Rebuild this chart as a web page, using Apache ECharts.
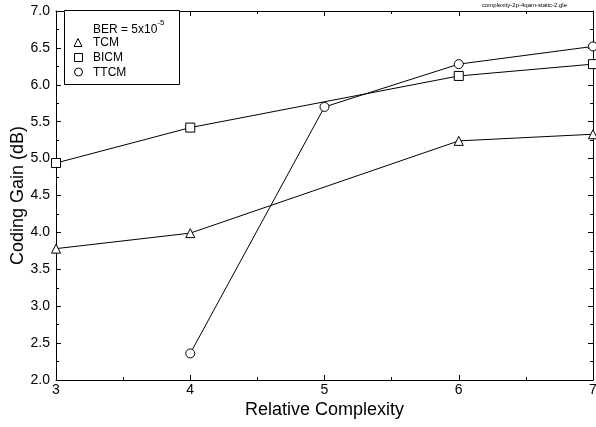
<!DOCTYPE html>
<html><head><meta charset="utf-8">
<script src="https://cdn.jsdelivr.net/npm/echarts@6/dist/echarts.min.js"></script>
<style>html,body{margin:0;padding:0;background:#fff}#c{width:596px;height:427px}</style>
</head><body><div id="c"></div>
<script>
const complexity = [3, 4, 5, 6, 7];
const tcm  = [3.78, 3.99, null, 5.24, 5.33];
const bicm = [4.94, 5.42, null, 6.12, 6.28];
const ttcm = [null, 2.36, 5.70, 6.28, 6.52];
const xTicks = [3, 4, 5, 6, 7];
const yTicks = [2.0, 2.5, 3.0, 3.5, 4.0, 4.5, 5.0, 5.5, 6.0, 6.5, 7.0];
const seriesNames = ['TCM', 'BICM', 'TTCM'];

const pairs = vals => complexity.map((x, i) => [x, vals[i]]).filter(p => p[1] !== null);
const F = 'Liberation Sans, Arial, sans-serif';
const chart = echarts.init(document.getElementById('c'));
const axisCommon = {
  axisLine: {lineStyle: {color: '#000', width: 1}},
  axisTick: {inside: true, length: 5, lineStyle: {color: '#000'}},
  minorTick: {show: true, splitNumber: 2, length: 3, lineStyle: {color: '#000'}},
  splitLine: {show: false}
};
const mk = (name, vals, symbol) => ({
  type: 'line', name, data: pairs(vals), symbol, symbolSize: 9,
  showSymbol: true, lineStyle: {color: '#000', width: 1},
  itemStyle: {color: '#fff', borderColor: '#000', borderWidth: 1},
  z: 3, animation: false
});
chart.setOption({
  animation: false,
  grid: {left: 56, right: 3, top: 11, bottom: 47, containLabel: false, outerBoundsMode: 'none'},
  xAxis: [
    Object.assign({type: 'value', min: xTicks[0], max: xTicks[xTicks.length-1], interval: 1, position: 'bottom',
      name: 'Relative Complexity', nameLocation: 'middle', nameGap: 21, nameMoveOverlap: false,
      nameTextStyle: {fontFamily: F, fontSize: 18, color: '#000'},
      axisLabel: {fontFamily: F, fontSize: 14, color: '#000', margin: 3}}, axisCommon),
    Object.assign({type: 'value', min: 3, max: 7, interval: 1, position: 'top', axisLabel: {show: false}}, axisCommon)
  ],
  yAxis: [
    Object.assign({type: 'value', min: yTicks[0], max: yTicks[yTicks.length-1], interval: 0.5,
      name: 'Coding Gain (dB)', nameLocation: 'middle', nameGap: 29, nameMoveOverlap: false,
      nameTextStyle: {fontFamily: F, fontSize: 18, color: '#000'},
      axisLabel: {fontFamily: F, fontSize: 14, color: '#000', margin: 6, formatter: v => v.toFixed(1)}}, axisCommon),
    Object.assign({type: 'value', min: 2, max: 7, interval: 0.5, position: 'right', axisLabel: {show: false}}, axisCommon)
  ],
  series: [
    mk(seriesNames[0], tcm, 'triangle'),
    mk(seriesNames[1], bicm, 'rect'),
    mk(seriesNames[2], ttcm, 'circle')
  ],
  graphic: [
    {type: 'text', left: 482, top: 2, style: {text: 'complexity-2p-4qam-static-2.gle', font: '6px ' + F, fill: '#000'}},
    {type: 'rect', shape: {x: 64.5, y: 10.5, width: 115, height: 74}, style: {fill: '#fff', stroke: '#000', lineWidth: 1}, z: 10},
    {type: 'text', x: 93, y: 19, z: 11, style: {text: '{a|BER = 5x10}{s|-5}', rich: {
      a: {font: '12px ' + F, fill: '#000', verticalAlign: 'bottom'},
      s: {font: '8px ' + F, fill: '#000', padding: [0, 0, 9, 0], verticalAlign: 'top'}}}},
    {type: 'polygon', z: 11, shape: {points: [[78, 38.5], [74, 46.5], [82, 46.5]]}, style: {fill: '#fff', stroke: '#000', lineWidth: 1}},
    {type: 'text', x: 93, y: 37, z: 11, style: {text: seriesNames[0], font: '12px ' + F, fill: '#000'}},
    {type: 'rect', z: 11, shape: {x: 74.5, y: 53.5, width: 8, height: 8}, style: {fill: '#fff', stroke: '#000', lineWidth: 1}},
    {type: 'text', x: 93, y: 52, z: 11, style: {text: seriesNames[1], font: '12px ' + F, fill: '#000'}},
    {type: 'circle', z: 11, shape: {cx: 78.5, cy: 72, r: 4}, style: {fill: '#fff', stroke: '#000', lineWidth: 1}},
    {type: 'text', x: 93, y: 66.5, z: 11, style: {text: seriesNames[2], font: '12px ' + F, fill: '#000'}}
  ]
});
</script></body></html>
